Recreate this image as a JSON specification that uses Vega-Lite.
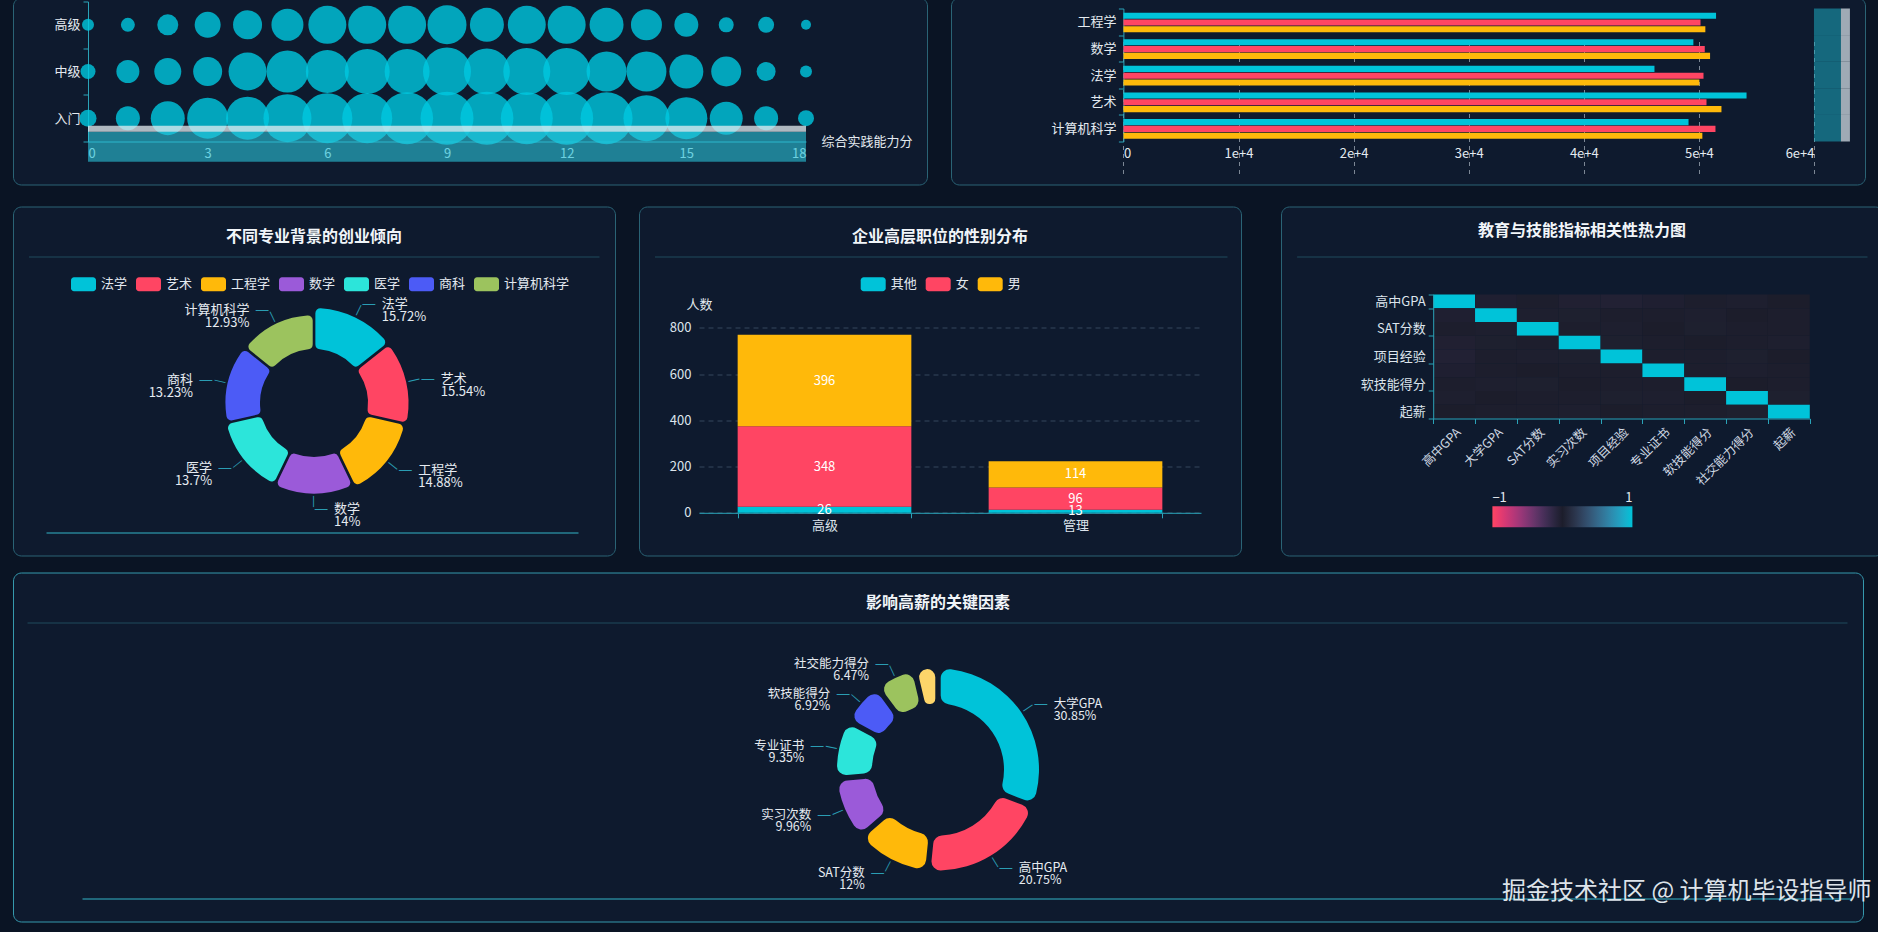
{
"$schema": "https://vega.github.io/schema/vega-lite/v6.json",
"background": "#0a1424",
"padding": {"left": 12, "top": -9.5, "right": 16, "bottom": 11},
"autosize": {"type": "pad"},
"config": {
  "font": "Noto Sans CJK SC",
  "view": {"fill": "#0e1a2e", "stroke": "#2a6375", "strokeWidth": 1, "cornerRadius": 8},
  "axis": {"domainColor": "#2aa3b8", "tickColor": "#2aa3b8", "labelColor": "#dce4ec", "labelFontSize": 13, "grid": false},
  "title": {"color": "#f1f5f9", "fontSize": 16, "fontWeight": "bold", "anchor": "middle"},
  "legend": {"labelColor": "#e3e9f0", "labelFontSize": 13}
},
"title": {"text": "掘金技术社区 @ 计算机毕设指导师", "orient": "bottom", "anchor": "end", "frame": "bounds", "offset": -30, "baseline": "middle", "dx": -12, "fontSize": 24, "fontWeight": "normal", "color": "#dde3ea"},
"spacing": 14,
"vconcat": [
 {"hconcat": [
  {
   "width": 914, "height": 187,
   "data": {"values": [
    {"lv":"高级","s":0,"d":12},{"lv":"高级","s":1,"d":14},{"lv":"高级","s":2,"d":21},{"lv":"高级","s":3,"d":26},{"lv":"高级","s":4,"d":29},{"lv":"高级","s":5,"d":32},{"lv":"高级","s":6,"d":38},{"lv":"高级","s":7,"d":38},{"lv":"高级","s":8,"d":38},{"lv":"高级","s":9,"d":39},{"lv":"高级","s":10,"d":34},{"lv":"高级","s":11,"d":38},{"lv":"高级","s":12,"d":38},{"lv":"高级","s":13,"d":34},{"lv":"高级","s":14,"d":31},{"lv":"高级","s":15,"d":24},{"lv":"高级","s":16,"d":15},{"lv":"高级","s":17,"d":16},{"lv":"高级","s":18,"d":10},
    {"lv":"中级","s":0,"d":15},{"lv":"中级","s":1,"d":23},{"lv":"中级","s":2,"d":27},{"lv":"中级","s":3,"d":29},{"lv":"中级","s":4,"d":38},{"lv":"中级","s":5,"d":42},{"lv":"中级","s":6,"d":43},{"lv":"中级","s":7,"d":45},{"lv":"中级","s":8,"d":45},{"lv":"中级","s":9,"d":48},{"lv":"中级","s":10,"d":46},{"lv":"中级","s":11,"d":47},{"lv":"中级","s":12,"d":47},{"lv":"中级","s":13,"d":40},{"lv":"中级","s":14,"d":40},{"lv":"中级","s":15,"d":34},{"lv":"中级","s":16,"d":30},{"lv":"中级","s":17,"d":19},{"lv":"中级","s":18,"d":12},
    {"lv":"入门","s":0,"d":17},{"lv":"入门","s":1,"d":24},{"lv":"入门","s":2,"d":34},{"lv":"入门","s":3,"d":41},{"lv":"入门","s":4,"d":43},{"lv":"入门","s":5,"d":48},{"lv":"入门","s":6,"d":50},{"lv":"入门","s":7,"d":50},{"lv":"入门","s":8,"d":52},{"lv":"入门","s":9,"d":53},{"lv":"入门","s":10,"d":53},{"lv":"入门","s":11,"d":52},{"lv":"入门","s":12,"d":53},{"lv":"入门","s":13,"d":52},{"lv":"入门","s":14,"d":46},{"lv":"入门","s":15,"d":42},{"lv":"入门","s":16,"d":33},{"lv":"入门","s":17,"d":24},{"lv":"入门","s":18,"d":16}
   ]},
   "layer": [
    {"mark": {"type": "circle", "color": "#00c8e0", "opacity": 0.8},
     "encoding": {
      "x": {"field": "s", "type": "quantitative", "scale": {"domain": [0, 18], "range": [75, 793], "nice": false, "zero": false},
            "axis": {"orient": "bottom", "offset": -43, "values": [0,3,6,9,12,15,18], "ticks": false, "labelPadding": 6, "labelColor": "#cfe4ea", "title": "综合实践能力分", "titleX": 808, "titleY": 0, "titleAlign": "left", "titleBaseline": "middle", "titleAngle": 0, "titleFontSize": 13, "titleFontWeight": "normal", "titleColor": "#e4eaf0"}},
      "y": {"field": "lv", "type": "nominal", "scale": {"domain": ["高级","中级","入门"], "range": [4, 144], "paddingInner": 0, "paddingOuter": 0},
            "axis": {"offset": -75, "tickSize": 5, "tickBand": "extent", "labelPadding": 3, "labelColor": "#e4eaf0", "title": null}},
      "size": {"field": "d", "type": "quantitative", "scale": {"type": "pow", "exponent": 2, "domain": [0, 60], "range": [0, 3600]}, "legend": null}
     }},
    {"transform": [{"filter": "datum.lv == '入门'"}],
     "mark": {"type": "rule", "color": "#2bc4da", "opacity": 0.6, "strokeWidth": 30, "strokeCap": "butt", "yOffset": 28.6},
     "encoding": {
      "x": {"aggregate": "min", "field": "s", "type": "quantitative",
            "axis": {"orient": "bottom", "offset": -43, "values": [0,3,6,9,12,15,18], "ticks": false, "labelPadding": 6, "labelColor": "#cfe4ea", "title": "综合实践能力分", "titleX": 808, "titleY": 0, "titleAlign": "left", "titleBaseline": "middle", "titleAngle": 0, "titleFontSize": 13, "titleFontWeight": "normal", "titleColor": "#e4eaf0"}},
      "x2": {"aggregate": "max", "field": "s"},
      "y": {"field": "lv", "type": "nominal", "axis": {"offset": -75, "tickSize": 5, "tickBand": "extent", "labelPadding": 3, "labelColor": "#e4eaf0", "title": null}}}},
    {"transform": [{"filter": "datum.lv == '入门'"}],
     "mark": {"type": "rule", "color": "#e6eef2", "opacity": 0.75, "strokeWidth": 6, "strokeCap": "butt", "yOffset": 10.5},
     "encoding": {
      "x": {"aggregate": "min", "field": "s", "type": "quantitative",
            "axis": {"orient": "bottom", "offset": -43, "values": [0,3,6,9,12,15,18], "ticks": false, "labelPadding": 6, "labelColor": "#cfe4ea", "title": "综合实践能力分", "titleX": 808, "titleY": 0, "titleAlign": "left", "titleBaseline": "middle", "titleAngle": 0, "titleFontSize": 13, "titleFontWeight": "normal", "titleColor": "#e4eaf0"}},
      "x2": {"aggregate": "max", "field": "s"},
      "y": {"field": "lv", "type": "nominal", "axis": {"offset": -75, "tickSize": 5, "tickBand": "extent", "labelPadding": 3, "labelColor": "#e4eaf0", "title": null}}}}
   ]
  },
  {
   "width": 914, "height": 187,
   "data": {"values": [
    {"major":"计算机科学","g":"其他","v":49100},{"major":"计算机科学","g":"女","v":51440},{"major":"计算机科学","g":"男","v":50300},
    {"major":"艺术","g":"其他","v":54140},{"major":"艺术","g":"女","v":50660},{"major":"艺术","g":"男","v":51960},
    {"major":"法学","g":"其他","v":46140},{"major":"法学","g":"女","v":50400},{"major":"法学","g":"男","v":50040},
    {"major":"数学","g":"其他","v":49520},{"major":"数学","g":"女","v":50510},{"major":"数学","g":"男","v":50970},
    {"major":"工程学","g":"其他","v":51490},{"major":"工程学","g":"女","v":50140},{"major":"工程学","g":"男","v":50560}
   ]},
   "layer": [
    {"transform": [{"filter": "datum.g == '其他'"}],
     "mark": {"type": "bar", "color": "#00c3d9", "height": 6.1, "yOffset": -6.1},
     "encoding": {
      "x": {"field": "v", "type": "quantitative", "scale": {"domain": [0, 60000], "range": [172.4, 863], "nice": false},
            "axis": {"offset": -43, "values": [0,10000,20000,30000,40000,50000,60000], "format": ",", "domain": false, "ticks": false, "labelPadding": 6, "labelColor": "#e4eaf0", "grid": true, "gridColor": "#c7d0da", "gridOpacity": 0.6, "gridDash": [4, 4], "title": null}},
      "y": {"field": "major", "type": "nominal", "scale": {"domain": ["工程学","数学","法学","艺术","计算机科学"], "range": [11, 144], "paddingInner": 0, "paddingOuter": 0},
            "axis": {"offset": -172.4, "tickSize": 5, "tickBand": "extent", "labelPadding": 2.5, "labelColor": "#e4eaf0", "title": null}}
     }},
    {"transform": [{"filter": "datum.g == '女'"}],
     "mark": {"type": "bar", "color": "#ff4563", "height": 6.1, "yOffset": 0.7},
     "encoding": {
      "x": {"field": "v", "type": "quantitative", "axis": {"offset": -43, "values": [0,10000,20000,30000,40000,50000,60000], "format": ",", "domain": false, "ticks": false, "labelPadding": 6, "labelColor": "#e4eaf0", "grid": true, "gridColor": "#c7d0da", "gridOpacity": 0.6, "gridDash": [4, 4], "title": null}},
      "y": {"field": "major", "type": "nominal", "axis": {"offset": -172.4, "tickSize": 5, "tickBand": "extent", "labelPadding": 2.5, "labelColor": "#e4eaf0", "title": null}}}},
    {"transform": [{"filter": "datum.g == '男'"}],
     "mark": {"type": "bar", "color": "#ffb90a", "height": 6.1, "yOffset": 7.5},
     "encoding": {
      "x": {"field": "v", "type": "quantitative", "axis": {"offset": -43, "values": [0,10000,20000,30000,40000,50000,60000], "format": ",", "domain": false, "ticks": false, "labelPadding": 6, "labelColor": "#e4eaf0", "grid": true, "gridColor": "#c7d0da", "gridOpacity": 0.6, "gridDash": [4, 4], "title": null}},
      "y": {"field": "major", "type": "nominal", "axis": {"offset": -172.4, "tickSize": 5, "tickBand": "extent", "labelPadding": 2.5, "labelColor": "#e4eaf0", "title": null}}}},
    {"transform": [{"filter": "datum.g == '男'"}],
     "mark": {"type": "tick", "color": "#1ba9bf", "opacity": 0.55, "thickness": 27, "size": 26.6},
     "encoding": {
      "x": {"datum": 61170, "type": "quantitative", "axis": {"offset": -43, "values": [0,10000,20000,30000,40000,50000,60000], "format": ",", "domain": false, "ticks": false, "labelPadding": 6, "labelColor": "#e4eaf0", "grid": true, "gridColor": "#c7d0da", "gridOpacity": 0.6, "gridDash": [4, 4], "title": null}},
      "y": {"field": "major", "type": "nominal", "axis": {"offset": -172.4, "tickSize": 5, "tickBand": "extent", "labelPadding": 2.5, "labelColor": "#e4eaf0", "title": null}}}},
    {"transform": [{"filter": "datum.g == '男'"}],
     "mark": {"type": "tick", "color": "#b9c4cc", "opacity": 0.85, "thickness": 9, "size": 26.6},
     "encoding": {
      "x": {"datum": 62730, "type": "quantitative", "axis": {"offset": -43, "values": [0,10000,20000,30000,40000,50000,60000], "format": ",", "domain": false, "ticks": false, "labelPadding": 6, "labelColor": "#e4eaf0", "grid": true, "gridColor": "#c7d0da", "gridOpacity": 0.6, "gridDash": [4, 4], "title": null}},
      "y": {"field": "major", "type": "nominal", "axis": {"offset": -172.4, "tickSize": 5, "tickBand": "extent", "labelPadding": 2.5, "labelColor": "#e4eaf0", "title": null}}}}
   ]
  }
 ], "spacing": 22},
 {"spacing": 15, "vconcat": [
  {"spacing": 22, "hconcat": [
   {
    "width": 602, "height": 349,
    "title": {"text": "不同专业背景的创业倾向", "offset": -46.5, "baseline": "middle"},
    "data": {"values": [
     {"major": "法学", "pct": 15.72},
     {"major": "艺术", "pct": 15.54},
     {"major": "工程学", "pct": 14.88},
     {"major": "数学", "pct": 14},
     {"major": "医学", "pct": 13.7},
     {"major": "商科", "pct": 13.23},
     {"major": "计算机科学", "pct": 12.93}
    ]},
    "transform": [
     {"window": [{"op": "row_number", "as": "idx"}]},
     {"calculate": "datum.idx - 1", "as": "t0"},
     {"calculate": "datum.idx - 0.5", "as": "mid"},
     {"calculate": "(datum.idx - 0.5) * 360 / 7 - 90", "as": "ang"},
     {"calculate": "datum.major + '\\n' + datum.pct + '%'", "as": "lbl"}
    ],
    "layer": [
     {"mark": {"type": "arc", "innerRadius": 54, "cornerRadius": 5, "padAngle": 0.025, "yOffset": 22},
      "encoding": {
       "theta": {"field": "t0", "type": "quantitative", "stack": null, "scale": {"domain": [0, 7]}},
       "theta2": {"field": "idx"},
       "radius": {"field": "pct", "type": "quantitative", "scale": {"type": "linear", "domain": [0, 15.72], "range": [54, 95], "zero": false}},
       "color": {"field": "major", "type": "nominal",
         "scale": {"domain": ["法学","艺术","工程学","数学","医学","商科","计算机科学"], "range": ["#00c3d9","#ff4563","#ffb90a","#9b5ad9","#2ce5da","#4c5bf6","#9cc35e"]},
         "legend": {"orient": "none", "legendX": 58, "legendY": 65, "direction": "horizontal", "title": null,
           "symbolType": "M-0.76,-0.56 H0.76 A0.24,0.24 0 0 1 1,-0.32 V0.32 A0.24,0.24 0 0 1 0.76,0.56 H-0.76 A0.24,0.24 0 0 1 -1,0.32 V-0.32 A0.24,0.24 0 0 1 -0.76,-0.56 Z",
           "symbolSize": 625, "symbolStrokeWidth": 0, "symbolOpacity": 1, "labelOffset": 5, "columnPadding": 8, "labelFontSize": 13}}
      }},
     {"mark": {"type": "text", "text": "—", "fontSize": 14, "color": "#2a9db3", "align": "center", "baseline": "middle", "radiusOffset": 8, "yOffset": 22},
      "encoding": {
       "theta": {"field": "mid", "type": "quantitative", "stack": null, "scale": {"domain": [0, 7]}},
       "radius": {"field": "pct", "type": "quantitative", "scale": {"type": "linear", "domain": [0, 15.72], "range": [54, 95], "zero": false}},
       "angle": {"field": "ang", "type": "quantitative", "scale": null}
      }},
     {"transform": [{"filter": "datum.idx <= 4"}],
      "mark": {"type": "text", "text": "—", "fontSize": 16, "color": "#2a9db3", "align": "left", "baseline": "middle", "radiusOffset": 15, "yOffset": 22},
      "encoding": {
       "theta": {"field": "mid", "type": "quantitative", "stack": null, "scale": {"domain": [0, 7]}},
       "radius": {"field": "pct", "type": "quantitative", "scale": {"type": "linear", "domain": [0, 15.72], "range": [54, 95], "zero": false}}
      }},
     {"transform": [{"filter": "datum.idx > 4"}],
      "mark": {"type": "text", "text": "—", "fontSize": 16, "color": "#2a9db3", "align": "right", "baseline": "middle", "radiusOffset": 15, "yOffset": 22},
      "encoding": {
       "theta": {"field": "mid", "type": "quantitative", "stack": null, "scale": {"domain": [0, 7]}},
       "radius": {"field": "pct", "type": "quantitative", "scale": {"type": "linear", "domain": [0, 15.72], "range": [54, 95], "zero": false}}
      }},
     {"transform": [{"filter": "datum.idx <= 4"}],
      "mark": {"type": "text", "align": "left", "dx": 20, "baseline": "middle", "lineBreak": "\n", "fontSize": 13, "lineHeight": 13, "color": "#e6ebf1", "radiusOffset": 15, "yOffset": 22},
      "encoding": {
       "theta": {"field": "mid", "type": "quantitative", "stack": null, "scale": {"domain": [0, 7]}},
       "radius": {"field": "pct", "type": "quantitative", "scale": {"type": "linear", "domain": [0, 15.72], "range": [54, 95], "zero": false}},
       "text": {"field": "lbl", "type": "nominal"}
      }},
     {"transform": [{"filter": "datum.idx > 4"}],
      "mark": {"type": "text", "align": "right", "dx": -20, "baseline": "middle", "lineBreak": "\n", "fontSize": 13, "lineHeight": 13, "color": "#e6ebf1", "radiusOffset": 15, "yOffset": 22},
      "encoding": {
       "theta": {"field": "mid", "type": "quantitative", "stack": null, "scale": {"domain": [0, 7]}},
       "radius": {"field": "pct", "type": "quantitative", "scale": {"type": "linear", "domain": [0, 15.72], "range": [54, 95], "zero": false}},
       "text": {"field": "lbl", "type": "nominal"}
      }},
     {"mark": {"type": "point", "opacity": 0},
      "encoding": {"x": {"field": "pct", "type": "quantitative", "scale": {"domain": [0, 100], "range": [15.5, 586]},
        "axis": {"orient": "top", "offset": -50, "domainColor": "#1f4b5c", "ticks": false, "labels": false, "grid": false, "title": null}},
        "y": {"field": "pct", "type": "quantitative", "scale": {"domain": [0, 100], "range": [200, 200]}, "axis": null}}},
     {"mark": {"type": "point", "opacity": 0},
      "encoding": {"x": {"field": "pct", "type": "quantitative", "scale": {"domain": [0, 100], "range": [33, 565]},
        "axis": {"orient": "bottom", "offset": -23, "domainColor": "#33b4c7", "ticks": false, "labels": false, "grid": false, "title": null}},
        "y": {"field": "pct", "type": "quantitative", "axis": null}}}
    ],
    "resolve": {"scale": {"x": "independent"}, "axis": {"x": "independent"}}
   },
   {
    "width": 602, "height": 349,
    "title": {"text": "企业高层职位的性别分布", "offset": -46.5, "baseline": "middle"},
    "data": {"values": [
     {"level": "高级", "gender": "其他", "n": 26},
     {"level": "高级", "gender": "女", "n": 348},
     {"level": "高级", "gender": "男", "n": 396},
     {"level": "管理", "gender": "其他", "n": 13},
     {"level": "管理", "gender": "女", "n": 96},
     {"level": "管理", "gender": "男", "n": 114}
    ]},
    "transform": [
     {"calculate": "indexof(['其他','女','男'], datum.gender)", "as": "go"},
     {"stack": "n", "groupby": ["level"], "sort": [{"field": "go", "order": "ascending"}], "as": ["n0", "n1"]},
     {"calculate": "(datum.n0 + datum.n1) / 2", "as": "nm"}
    ],
    "layer": [
     {"mark": {"type": "bar"},
      "encoding": {
       "x": {"field": "level", "type": "nominal", "scale": {"domain": ["高级","管理"], "range": [60, 562], "paddingInner": 0.308, "paddingOuter": 0.154},
             "axis": {"orient": "bottom", "offset": -42.7, "tickBand": "extent", "tickSize": 5, "labelPadding": 2, "labelAngle": 0, "title": null}},
       "y": {"field": "n0", "type": "quantitative", "scale": {"domain": [0, 800], "range": [306.3, 121.3], "nice": false},
             "axis": {"offset": -60, "values": [0,200,400,600,800], "domain": false, "ticks": false, "labelPadding": 8, "grid": true, "gridColor": "#34465c", "gridDash": [5, 4],
                      "title": "人数", "titleAngle": 0, "titleX": 0, "titleY": 98, "titleAlign": "center", "titleBaseline": "middle", "titleFontSize": 13, "titleFontWeight": "normal", "titleColor": "#e4eaf0"}},
       "y2": {"field": "n1"},
       "color": {"field": "gender", "type": "nominal", "scale": {"domain": ["其他","女","男"], "range": ["#00c3d9","#ff4563","#ffb90a"]},
         "legend": {"orient": "none", "legendX": 221.7, "legendY": 65, "direction": "horizontal", "title": null,
          "symbolType": "M-0.76,-0.56 H0.76 A0.24,0.24 0 0 1 1,-0.32 V0.32 A0.24,0.24 0 0 1 0.76,0.56 H-0.76 A0.24,0.24 0 0 1 -1,0.32 V-0.32 A0.24,0.24 0 0 1 -0.76,-0.56 Z",
          "symbolSize": 625, "symbolStrokeWidth": 0, "symbolOpacity": 1, "labelOffset": 5, "columnPadding": 8, "labelFontSize": 13}}
      }},
     {"mark": {"type": "text", "color": "#ffffff", "fontSize": 13, "baseline": "middle"},
      "encoding": {
       "x": {"field": "level", "type": "nominal", "scale": {"domain": ["高级","管理"], "range": [60, 562], "paddingInner": 0.308, "paddingOuter": 0.154}, "axis": null},
       "y": {"field": "nm", "type": "quantitative",
             "axis": {"offset": -60, "values": [0,200,400,600,800], "domain": false, "ticks": false, "labelPadding": 8, "grid": true, "gridColor": "#34465c", "gridDash": [5, 4],
                      "title": "人数", "titleAngle": 0, "titleX": 0, "titleY": 98, "titleAlign": "center", "titleBaseline": "middle", "titleFontSize": 13, "titleFontWeight": "normal", "titleColor": "#e4eaf0"}},
       "text": {"field": "n", "type": "quantitative"}
      }},
     {"mark": {"type": "point", "opacity": 0},
      "encoding": {"x": {"field": "n", "type": "quantitative", "scale": {"domain": [0, 1000], "range": [15.5, 588]},
        "axis": {"orient": "top", "offset": -50, "domainColor": "#1f4b5c", "ticks": false, "labels": false, "grid": false, "title": null}}}}
    ],
    "resolve": {"scale": {"x": "independent"}, "axis": {"x": "independent"}}
   },
   {
    "width": 602, "height": 349,
    "title": {"text": "教育与技能指标相关性热力图", "offset": -46.5, "baseline": "middle"},
    "data": {"values": [
     {"r":"高中GPA","高中GPA":1,"大学GPA":-0.03,"SAT分数":0.01,"实习次数":-0.04,"项目经验":-0.05,"专业证书":-0.03,"软技能得分":0.01,"社交能力得分":-0.02,"起薪":0},
     {"r":"大学GPA","高中GPA":-0.03,"大学GPA":1,"SAT分数":-0.02,"实习次数":0.02,"项目经验":-0.01,"专业证书":0.01,"软技能得分":-0.02,"社交能力得分":0,"起薪":-0.01},
     {"r":"SAT分数","高中GPA":0.01,"大学GPA":-0.02,"SAT分数":1,"实习次数":0.01,"项目经验":-0.02,"专业证书":0,"软技能得分":0.02,"社交能力得分":-0.01,"起薪":0.01},
     {"r":"实习次数","高中GPA":-0.04,"大学GPA":0.02,"SAT分数":0.01,"实习次数":1,"项目经验":0.02,"专业证书":-0.01,"软技能得分":0,"社交能力得分":0.01,"起薪":-0.02},
     {"r":"项目经验","高中GPA":-0.05,"大学GPA":-0.01,"SAT分数":-0.02,"实习次数":0.02,"项目经验":1,"专业证书":0.01,"软技能得分":-0.01,"社交能力得分":0.02,"起薪":0},
     {"r":"专业证书","高中GPA":-0.03,"大学GPA":0.01,"SAT分数":0,"实习次数":-0.01,"项目经验":0.01,"专业证书":1,"软技能得分":0.01,"社交能力得分":-0.02,"起薪":0.01},
     {"r":"软技能得分","高中GPA":0.01,"大学GPA":-0.02,"SAT分数":0.02,"实习次数":0,"项目经验":-0.01,"专业证书":0.01,"软技能得分":1,"社交能力得分":0,"起薪":-0.01},
     {"r":"社交能力得分","高中GPA":-0.02,"大学GPA":0,"SAT分数":-0.01,"实习次数":0.01,"项目经验":0.02,"专业证书":-0.02,"软技能得分":0,"社交能力得分":1,"起薪":0.02},
     {"r":"起薪","高中GPA":0,"大学GPA":-0.01,"SAT分数":0.01,"实习次数":-0.02,"项目经验":0,"专业证书":0.01,"软技能得分":-0.01,"社交能力得分":0.02,"起薪":1}
    ]},
    "transform": [{"fold": ["高中GPA","大学GPA","SAT分数","实习次数","项目经验","专业证书","软技能得分","社交能力得分","起薪"], "as": ["c", "v"]}],
    "layer": [
     {"mark": {"type": "rect"},
      "encoding": {
       "x": {"field": "c", "type": "nominal", "scale": {"domain": ["高中GPA","大学GPA","SAT分数","实习次数","项目经验","专业证书","软技能得分","社交能力得分","起薪"], "range": [152.2, 528.8], "paddingInner": 0, "paddingOuter": 0},
             "axis": {"orient": "bottom", "offset": -137, "tickBand": "extent", "tickSize": 5, "labelAngle": -45, "labelFontSize": 12.5, "labelPadding": 2, "labelColor": "#cfd8e2", "title": null}},
       "y": {"field": "r", "type": "nominal", "scale": {"domain": ["高中GPA","大学GPA","SAT分数","实习次数","项目经验","专业证书","软技能得分","社交能力得分","起薪"], "range": [88, 212], "paddingInner": 0, "paddingOuter": 0},
             "axis": {"offset": -152.2, "values": ["高中GPA","SAT分数","项目经验","软技能得分","起薪"], "tickBand": "extent", "tickSize": 5, "labelPadding": 3, "title": null}},
       "color": {"field": "v", "type": "quantitative", "scale": {"domain": [-1, 0, 1], "range": ["#ff4563", "#1c1d2b", "#00c3d9"]},
         "legend": {"orient": "none", "legendX": 211.4, "legendY": 299.7, "direction": "horizontal", "gradientLength": 140, "gradientThickness": 21, "values": [-1, 1], "title": null, "labelOffset": -35, "labelBaseline": "middle", "labelAlign": "center", "labelFontSize": 13, "gradientStrokeWidth": 0}}
      }},
     {"mark": {"type": "point", "opacity": 0},
      "encoding": {"x": {"field": "v", "type": "quantitative", "scale": {"domain": [0, 1], "range": [15.6, 586]},
        "axis": {"orient": "top", "offset": -50, "domainColor": "#1f4b5c", "ticks": false, "labels": false, "grid": false, "title": null}}}}
    ],
    "resolve": {"scale": {"x": "independent"}, "axis": {"x": "independent"}}
   }
  ]},
  {
   "width": 1850, "height": 349,
   "view": {"stroke": "#3599ad"},
   "title": {"text": "影响高薪的关键因素", "offset": -46.5, "baseline": "middle"},
   "data": {"values": [
    {"factor": "大学GPA", "pct": 30.85},
    {"factor": "高中GPA", "pct": 20.75},
    {"factor": "SAT分数", "pct": 12},
    {"factor": "实习次数", "pct": 9.96},
    {"factor": "专业证书", "pct": 9.35},
    {"factor": "软技能得分", "pct": 6.92},
    {"factor": "社交能力得分", "pct": 6.47},
    {"factor": "项目经验", "pct": 3.7}
   ]},
   "transform": [
    {"window": [{"op": "sum", "field": "pct", "as": "cum"}, {"op": "row_number", "as": "idx"}], "frame": [null, 0]},
    {"calculate": "datum.cum - datum.pct / 2", "as": "mid"},
    {"calculate": "datum.mid * 3.6 - 90", "as": "ang"},
    {"calculate": "datum.factor + '\\n' + datum.pct + '%'", "as": "lbl"},
    {"calculate": "datum.factor == '项目经验' ? 0 : (datum.mid <= 50 ? 1 : 2)", "as": "side"}
   ],
   "layer": [
    {"mark": {"type": "arc", "outerRadius": 101, "innerRadius": 66, "cornerRadius": 9, "padAngle": 0.045, "yOffset": 22.5},
     "encoding": {
      "theta": {"field": "pct", "type": "quantitative", "stack": true},
      "order": {"field": "idx", "type": "quantitative"},
      "color": {"field": "factor", "type": "nominal",
        "scale": {"domain": ["大学GPA","高中GPA","SAT分数","实习次数","专业证书","软技能得分","社交能力得分","项目经验"], "range": ["#00c3d9","#ff4563","#ffb90a","#9b5ad9","#2ce5da","#4c5bf6","#9cc35e","#fdd56a"]},
        "legend": null}
     }},
    {"mark": {"type": "text", "text": "—", "fontSize": 14, "color": "#2a9db3", "align": "center", "baseline": "middle", "radius": 109, "yOffset": 22.5},
     "encoding": {
      "theta": {"field": "pct", "type": "quantitative", "stack": true},
      "order": {"field": "idx", "type": "quantitative"},
      "angle": {"field": "ang", "type": "quantitative", "scale": null},
      "opacity": {"condition": {"test": "datum.side > 0", "value": 1}, "value": 0}
     }},
    {"mark": {"type": "text", "text": "—", "fontSize": 16, "color": "#2a9db3", "align": "left", "baseline": "middle", "radius": 116, "yOffset": 22.5},
     "encoding": {
      "theta": {"field": "pct", "type": "quantitative", "stack": true},
      "order": {"field": "idx", "type": "quantitative"},
      "opacity": {"condition": {"test": "datum.side == 1", "value": 1}, "value": 0}
     }},
    {"mark": {"type": "text", "text": "—", "fontSize": 16, "color": "#2a9db3", "align": "right", "baseline": "middle", "radius": 116, "yOffset": 22.5},
     "encoding": {
      "theta": {"field": "pct", "type": "quantitative", "stack": true},
      "order": {"field": "idx", "type": "quantitative"},
      "opacity": {"condition": {"test": "datum.side == 2", "value": 1}, "value": 0}
     }},
    {"mark": {"type": "text", "align": "left", "dx": 20, "baseline": "middle", "lineBreak": "\n", "fontSize": 12.5, "lineHeight": 12, "color": "#e6ebf1", "radius": 116, "yOffset": 22.5},
     "encoding": {
      "theta": {"field": "pct", "type": "quantitative", "stack": true},
      "order": {"field": "idx", "type": "quantitative"},
      "text": {"field": "lbl", "type": "nominal"},
      "opacity": {"condition": {"test": "datum.side == 1", "value": 1}, "value": 0}
     }},
    {"mark": {"type": "text", "align": "right", "dx": -20, "baseline": "middle", "lineBreak": "\n", "fontSize": 12.5, "lineHeight": 12, "color": "#e6ebf1", "radius": 116, "yOffset": 22.5},
     "encoding": {
      "theta": {"field": "pct", "type": "quantitative", "stack": true},
      "order": {"field": "idx", "type": "quantitative"},
      "text": {"field": "lbl", "type": "nominal"},
      "opacity": {"condition": {"test": "datum.side == 2", "value": 1}, "value": 0}
     }},
    {"mark": {"type": "point", "opacity": 0},
     "encoding": {"x": {"field": "pct", "type": "quantitative", "scale": {"domain": [0, 100], "range": [14, 1834]},
       "axis": {"orient": "top", "offset": -50, "domainColor": "#1f4b5c", "ticks": false, "labels": false, "grid": false, "title": null}},
       "y": {"field": "pct", "type": "quantitative", "scale": {"domain": [0, 100], "range": [200, 200]}, "axis": null}}},
    {"mark": {"type": "point", "opacity": 0},
     "encoding": {"x": {"field": "pct", "type": "quantitative", "scale": {"domain": [0, 100], "range": [69, 1838]},
       "axis": {"orient": "bottom", "offset": -23, "domainColor": "#33b4c7", "ticks": false, "labels": false, "grid": false, "title": null}},
       "y": {"field": "pct", "type": "quantitative", "axis": null}}}
   ],
   "resolve": {"scale": {"x": "independent"}, "axis": {"x": "independent"}}
  }
 ]}
]
}
